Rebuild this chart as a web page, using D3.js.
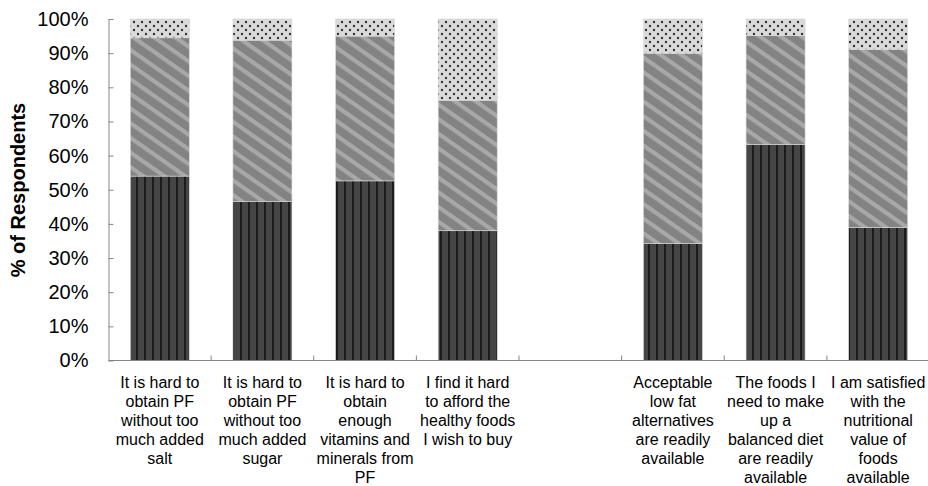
<!DOCTYPE html>
<html>
<head>
<meta charset="utf-8">
<script src="https://cdn.jsdelivr.net/npm/d3@7"></script>
<style>
  html, body { margin: 0; padding: 0; background: #ffffff; }
  svg { display: block; }
  text { font-family: "Liberation Sans", Arial, sans-serif; fill: #000; }
</style>
</head>
<body>
<svg id="chart" width="928" height="486"></svg>
<script>
// ---- data ----
const categories = [
  "It is hard to|obtain PF|without too|much added|salt",
  "It is hard to|obtain PF|without too|much added|sugar",
  "It is hard to|obtain|enough|vitamins and|minerals from|PF",
  "I find it hard|to afford the|healthy foods|I wish to buy",
  "",
  "Acceptable|low fat|alternatives|are readily|available",
  "The foods I|need to make|up a|balanced diet|are readily|available",
  "I am satisfied|with the|nutritional|value of|foods|available"
];
const seriesNames = ["Series 1", "Series 2", "Series 3"];
const series1 = [54.0, 46.5, 52.6, 38.0, null, 34.2, 63.3, 38.9];
const series2 = [40.5, 47.3, 42.4, 38.2, null, 55.7, 31.9, 52.2];
const series3 = [5.5, 6.2, 5.0, 23.8, null, 10.1, 4.8, 8.9];
const yTicks = [0, 10, 20, 30, 40, 50, 60, 70, 80, 90, 100];
const yTitle = "% of Respondents";

// ---- layout ----
const svg = d3.select("#chart");
const plotLeft = 108.5, plotRight = 929.5, plotTop = 19, plotBottom = 360.5;

const x = d3.scaleBand().domain(d3.range(categories.length)).range([plotLeft, plotRight]).padding(0);
const y = d3.scaleLinear().domain([0, 100]).range([plotBottom, plotTop]);
const barFrac = 0.575;

// patterns
const defs = svg.append("defs");
const pV = defs.append("pattern").attr("id", "pv").attr("patternUnits", "userSpaceOnUse")
  .attr("width", 8).attr("height", 8);
pV.append("rect").attr("width", 8).attr("height", 8).attr("fill", "#454545");
pV.append("rect").attr("x", 0).attr("width", 2).attr("height", 8).attr("fill", "#1c1c1c");

const pD = defs.append("pattern").attr("id", "pd").attr("patternUnits", "userSpaceOnUse")
  .attr("width", 10).attr("height", 12).attr("patternTransform", "rotate(35)");
pD.append("rect").attr("width", 10).attr("height", 12).attr("fill", "#838383");
pD.append("rect").attr("y", 0).attr("width", 10).attr("height", 4.2).attr("fill", "#a8a8a8");

const pT = defs.append("pattern").attr("id", "pt").attr("patternUnits", "userSpaceOnUse")
  .attr("width", 8).attr("height", 8);
pT.append("rect").attr("width", 8).attr("height", 8).attr("fill", "#dadada");
pT.append("circle").attr("cx", 2).attr("cy", 2).attr("r", 1.2).attr("fill", "#333333");
pT.append("circle").attr("cx", 6).attr("cy", 6).attr("r", 1.2).attr("fill", "#333333");

const fills = ["url(#pv)", "url(#pd)", "url(#pt)"];

// stack
const rows = categories.map((c, i) => ({ i, s0: series1[i], s1: series2[i], s2: series3[i] }));
const stack = d3.stack().keys(["s0", "s1", "s2"]).value((d, k) => d[k] == null ? 0 : d[k]);
const stacked = stack(rows);

const bw = x.bandwidth() * barFrac;
stacked.forEach((layer, li) => {
  svg.append("g").selectAll("rect")
    .data(layer.filter(d => d.data.s0 != null))
    .join("rect")
    .attr("x", d => x(d.data.i) + (x.bandwidth() - bw) / 2)
    .attr("width", bw)
    .attr("y", d => y(d[1]))
    .attr("height", d => y(d[0]) - y(d[1]))
    .attr("fill", fills[li])
    .attr("stroke", "#d9d9d9")
    .attr("stroke-width", 0.6);
});

// y axis
const yAxis = d3.axisLeft(y).tickValues(yTicks).tickFormat(d => d + "%")
  .tickSizeInner(-5).tickSizeOuter(0).tickPadding(20);
const gy = svg.append("g").attr("transform", `translate(${plotLeft},0)`).call(yAxis);
gy.select(".domain").attr("stroke", "#868686");
gy.selectAll(".tick line").attr("stroke", "#868686");
gy.selectAll(".tick text").attr("font-size", 20).attr("font-family", "Liberation Sans, Arial, sans-serif").attr("fill", "#000");

// x axis (ticks at category boundaries, inward)
const gx = svg.append("g");
gx.append("line").attr("x1", plotLeft).attr("x2", plotRight).attr("y1", plotBottom).attr("y2", plotBottom)
  .attr("stroke", "#868686");
const bounds = d3.range(categories.length + 1).map(i => i < categories.length ? x(i) : x(categories.length - 1) + x.step());
gx.selectAll("line.tk").data(bounds.slice(1)).join("line").attr("class", "tk")
  .attr("x1", d => d).attr("x2", d => d).attr("y1", plotBottom).attr("y2", plotBottom - 5)
  .attr("stroke", "#868686");

// category labels
const lab = svg.append("g");
categories.forEach((c, i) => {
  if (!c) return;
  const t = lab.append("text").attr("text-anchor", "middle").attr("font-size", 16);
  c.split("|").forEach((ln, j) => {
    t.append("tspan").attr("x", x(i) + x.bandwidth() / 2).attr("y", 388 + j * 19).text(ln);
  });
});

// y title
svg.append("text").attr("transform", "translate(25,190) rotate(-90)")
  .attr("text-anchor", "middle").attr("font-size", 20).attr("font-weight", "bold").text(yTitle);
</script>
</body>
</html>
